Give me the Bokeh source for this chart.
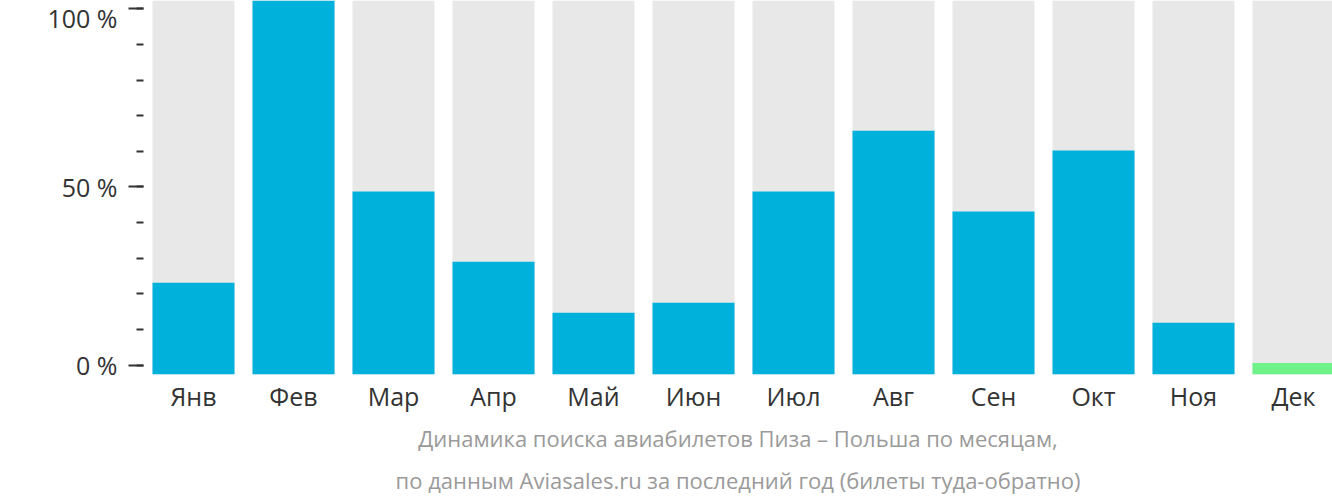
from bokeh.plotting import figure
from bokeh.models import Range1d, FixedTicker, Title, ColumnDataSource
from bokeh.embed import file_html
from bokeh.resources import INLINE

months = ["Янв", "Фев", "Мар", "Апр", "Май", "Июн", "Июл", "Авг", "Сен", "Окт", "Ноя", "Дек"]
values = [23.1, 102.3, 48.7, 29.0, 14.7, 17.5, 48.7, 65.8, 43.1, 60.2, 11.9, 0.6]
highlight_month = "Дек"
y_ticks = [0, 50, 100]
y_tick_labels = ["0 %", "50 %", "100 %"]
caption_line1 = "Динамика поиска авиабилетов Пиза – Польша по месяцам,"
caption_line2 = "по данным Aviasales.ru за последний год (билеты туда-обратно)"

Y_MIN, Y_MAX = -2.63, 102.33
X_MIN, X_MAX = -0.5, 11.39
FONT = "Open Sans"

xs = list(range(len(months)))
colors = ["#6ff28a" if m == highlight_month else "#00b1dc" for m in months]
src = ColumnDataSource(dict(x=xs, top=values, color=colors,
                            base=[Y_MIN] * len(xs), full=[Y_MAX] * len(xs)))

p = figure(width=1332, height=502, output_backend="svg", toolbar_location=None,
           x_range=Range1d(X_MIN, X_MAX), y_range=Range1d(Y_MIN, Y_MAX),
           min_border_left=143, min_border_right=0, min_border_top=0,
           min_border_bottom=128)
p.outline_line_color = None
p.grid.visible = False
p.background_fill_color = "white"
p.border_fill_color = "white"

p.vbar(x="x", width=0.82, bottom="base", top="full", source=src,
       fill_color="#e8e8e8", line_color=None)
p.vbar(x="x", width=0.82, bottom="base", top="top", source=src,
       fill_color="color", line_color=None)

# x axis
xa = p.xaxis[0]
xa.ticker = FixedTicker(ticks=xs)
xa.major_label_overrides = {i: m for i, m in zip(xs, months)}
xa.axis_line_color = None
xa.major_tick_line_color = None
xa.minor_tick_line_color = None
xa.major_label_standoff = -2
xa.major_label_text_font = FONT
xa.major_label_text_font_size = "25px"
xa.major_label_text_color = "#333333"

# y axis
ya = p.yaxis[0]
ya.ticker = FixedTicker(ticks=y_ticks, minor_ticks=list(range(0, 101, 10)))
ya.major_label_overrides = {t: l for t, l in zip(y_ticks, y_tick_labels)}
ya.axis_line_color = None
ya.major_tick_in = 0
ya.major_tick_out = 15
ya.minor_tick_in = 0
ya.minor_tick_out = 7
ya.major_tick_line_color = "#333333"
ya.minor_tick_line_color = "#333333"
ya.major_tick_line_width = 2
ya.minor_tick_line_width = 2
ya.major_label_standoff = 11
ya.major_label_text_font = FONT
ya.major_label_text_font_size = "25px"
ya.major_label_text_color = "#333333"

for line, so, pad in ((caption_line1, 3, 4), (caption_line2, 8, 0)):
    t = Title(text=line, align="center", text_font=FONT, text_font_size="22px",
              text_color="#9a9a9a", text_font_style="normal", standoff=so, padding=pad)
    p.add_layout(t, "below")

open("out.html", "w").write(file_html(p, INLINE))
